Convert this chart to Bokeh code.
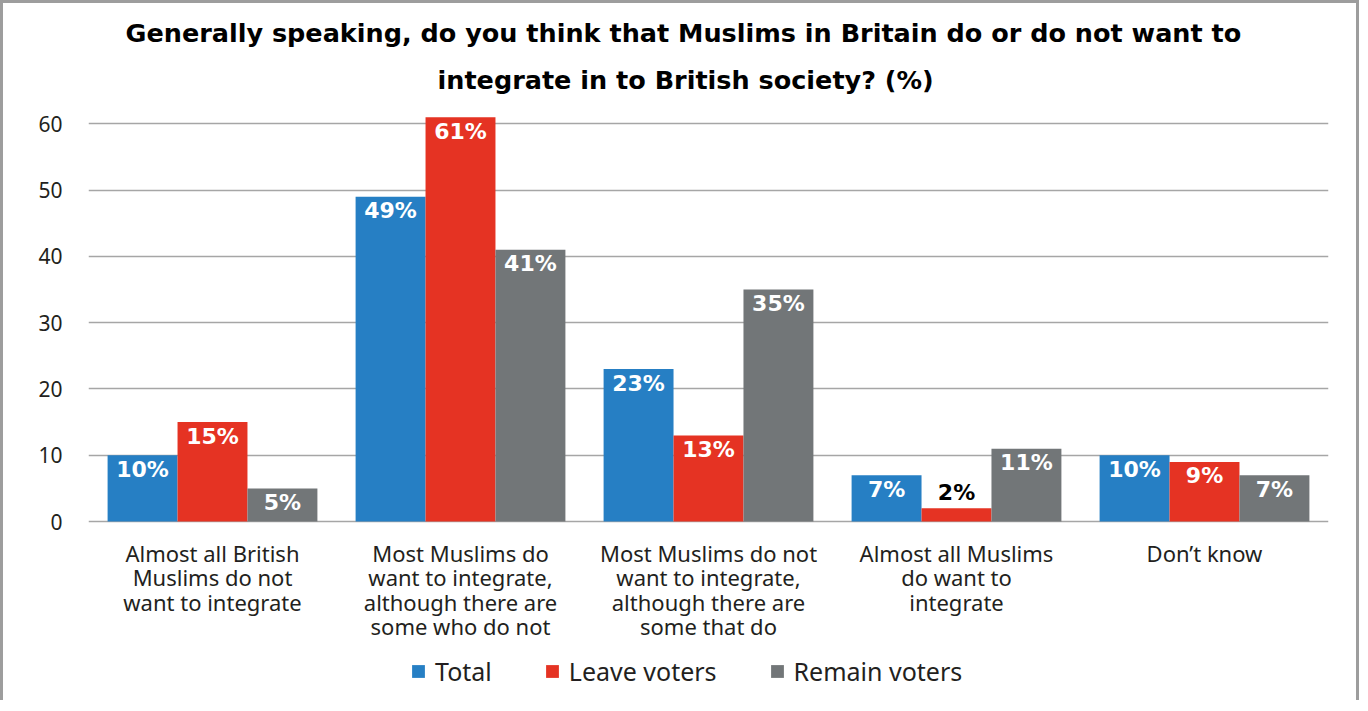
from bokeh.plotting import figure
from bokeh.models import ColumnDataSource, FactorRange, Range1d, Legend, LegendItem, Title, FixedTicker
from bokeh.transform import dodge
from bokeh.core.properties import value
from bokeh.embed import file_html
from bokeh.resources import INLINE

categories = [
    "Almost all British\nMuslims do not\nwant to integrate",
    "Most Muslims do\nwant to integrate,\nalthough there are\nsome who do not",
    "Most Muslims do not\nwant to integrate,\nalthough there are\nsome that do",
    "Almost all Muslims\ndo want to\nintegrate",
    "Don\u2019t know",
]
series = ["Total", "Leave voters", "Remain voters"]
total = [10, 49, 23, 7, 10]
leave = [15, 61, 13, 2, 9]
remain = [5, 41, 35, 11, 7]
y_ticks = [0, 10, 20, 30, 40, 50, 60]

colors = ["#267FC4", "#E53323", "#727678"]
values_by_series = [total, leave, remain]
bar_w = 0.282
offsets = [-bar_w, 0.0, bar_w]

# frame extends down to the canvas bottom so that category labels and legend live inside it
p = figure(
    x_range=FactorRange(factors=categories),
    y_range=Range1d(-27.44, 62),
    width=1359, height=700,
    output_backend="svg", toolbar_location=None,
    x_axis_location=None,
    min_border_left=85, min_border_right=34, min_border_top=107, min_border_bottom=0,
)
p.outline_line_color = None
p.styles = {"border-left": "3px solid #9d9d9d", "border-top": "3px solid #9d9d9d",
            "border-right": "3px solid #9d9d9d"}

t2 = Title(text="integrate in to British society? (%)", align="left",
           text_font="DejaVu Sans", text_font_style="bold", text_font_size="25.5px",
           text_color="#000000", standoff=31, offset=349)
t1 = Title(text="Generally speaking, do you think that Muslims in Britain do or do not want to",
           align="left", text_font="DejaVu Sans", text_font_style="bold",
           text_font_size="25.5px", text_color="#000000", standoff=0, offset=37)
p.add_layout(t2, "above")
p.add_layout(t1, "above")

renderers = []
for i in range(3):
    vals = values_by_series[i]
    src = ColumnDataSource(dict(cat=categories, top=vals))
    r = p.vbar(x=dodge("cat", offsets[i], range=p.x_range), top="top", width=bar_w,
               source=src, fill_color=colors[i], line_color=None)
    renderers.append(r)
    lsrc = ColumnDataSource(dict(
        cat=categories, y=vals,
        label=[f"{v}%" for v in vals],
        tcol=["#000000" if v < 4 else "#ffffff" for v in vals],
        yoff=[-16 if v < 4 else 14 for v in vals],
    ))
    p.text(x=dodge("cat", offsets[i], range=p.x_range), y="y", text="label",
           text_color="tcol", y_offset="yoff", source=lsrc,
           text_align="center", text_baseline="middle",
           text_font=value("DejaVu Sans"), text_font_style="bold", text_font_size="22px")

# category labels under the baseline
csrc = ColumnDataSource(dict(cat=categories, y=[0] * len(categories)))
p.text(x="cat", y="y", text="cat", source=csrc, y_offset=16,
       text_align="center", text_baseline="top", text_line_height=0.82,
       text_font=value("Noto Sans"), text_font_size="22px", text_color="#231f20")

p.xgrid.grid_line_color = None
p.ygrid.ticker = FixedTicker(ticks=y_ticks)
p.ygrid.grid_line_color = "#a6a6a6"
p.ygrid.grid_line_width = 1.5
p.yaxis.ticker = FixedTicker(ticks=y_ticks)
p.yaxis.axis_line_color = None
p.yaxis.major_tick_line_color = None
p.yaxis.minor_tick_line_color = None
p.yaxis.major_tick_out = 0
p.yaxis.major_label_standoff = 26
p.yaxis.major_label_text_font = "Noto Sans"
p.yaxis.major_label_text_font_size = "21px"
p.yaxis.major_label_text_color = "#231f20"

legend = Legend(
    items=[LegendItem(label=series[i], renderers=[renderers[i]]) for i in range(3)],
    orientation="horizontal", location=(322, 15),
    glyph_width=16, glyph_height=16, label_standoff=9, spacing=52,
    label_text_font="Noto Sans", label_text_font_size="25px", label_text_color="#231f20",
    border_line_color=None, background_fill_alpha=0, margin=0, padding=0,
)
p.add_layout(legend, "center")

open("out.html", "w").write(file_html(p, INLINE))
